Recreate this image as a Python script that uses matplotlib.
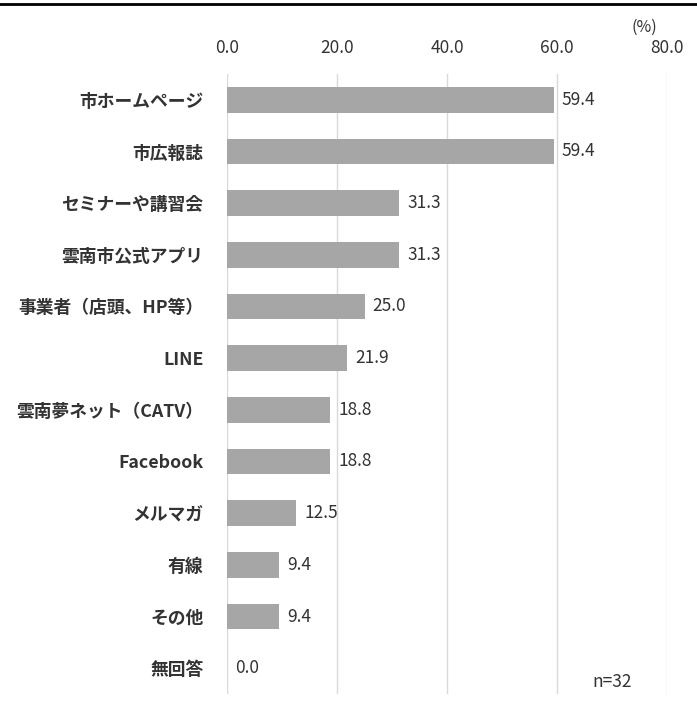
import matplotlib.pyplot as plt

plt.rcParams['font.family'] = ['Noto Sans CJK JP', 'DejaVu Sans']

categories = ['市ホームページ', '市広報誌', 'セミナーや講習会', '雲南市公式アプリ',
              '事業者（店頭、HP等）', 'LINE', '雲南夢ネット（CATV）', 'Facebook',
              'メルマガ', '有線', 'その他', '無回答']
values = [59.4, 59.4, 31.3, 31.3, 25.0, 21.9, 18.8, 18.8, 12.5, 9.4, 9.4, 0.0]
xticks = [0, 20, 40, 60, 80]
n_label = 'n=32'

fig = plt.figure(figsize=(6.97, 7.18), dpi=100)
ax = fig.add_axes([0.3257, 0.0334, 0.6313, 0.8636])

ypos = range(len(categories))
ax.barh(ypos, values, height=0.5, color='#a6a6a6', zorder=3)
for y, v in zip(ypos, values):
    ax.text(v + 1.5, y, f'{v:.1f}', va='center', ha='left', fontsize=12.5,
            color='#333333')

ax.set_xlim(0, 80)
ax.set_ylim(len(categories) - 0.5, -0.5)
ax.set_xticks(xticks)
ax.set_xticklabels([f'{t:.1f}' for t in xticks], fontsize=12.5, color='#333333')
ax.xaxis.tick_top()
ax.tick_params(axis='x', length=0, pad=12)
ax.set_yticks(list(ypos))
ax.set_yticklabels(categories, fontsize=12.8, fontweight='bold', color='#333333')
ax.tick_params(axis='y', length=0, pad=17)
ax.grid(axis='x', color='#d9d9d9', linewidth=1, zorder=0)
for s in ax.spines.values():
    s.set_visible(False)

ax.text(0.92, 0.02, n_label, transform=ax.transAxes, ha='right', va='center',
        fontsize=12.5, color='#333333')
fig.text(0.925, 0.962, '(%)', ha='center', va='center', fontsize=11.5,
         color='#333333')
fig.add_artist(plt.Line2D([0, 1], [0.995, 0.995], color='black', linewidth=2))

fig.savefig('out.png', dpi=100)
